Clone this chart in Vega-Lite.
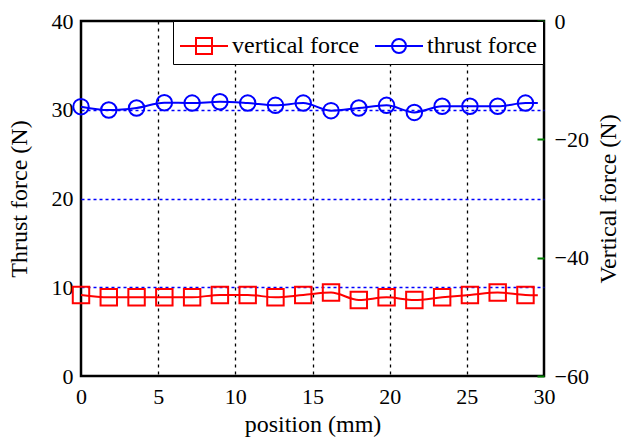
{
  "$schema": "https://vega.github.io/schema/vega-lite/v6.json",
  "width": 463,
  "height": 355,
  "autosize": {"type": "none"},
  "padding": {"left": 81, "top": 21, "right": 78, "bottom": 68},
  "background": "white",
  "config": {
    "font": "Liberation Serif",
    "view": {"stroke": "black", "strokeWidth": 2.5},
    "axis": {
      "labelFont": "Liberation Serif",
      "titleFont": "Liberation Serif",
      "labelColor": "black",
      "titleColor": "black",
      "labelFontSize": 22,
      "titleFontSize": 24,
      "titleFontWeight": "normal",
      "domain": false
    }
  },
  "datasets": {
    "curve": [
      {"position": 0, "thrust": 30.35, "vertical": -46.3},
      {"position": 1.8, "thrust": 29.97, "vertical": -46.7},
      {"position": 3.6, "thrust": 30.2, "vertical": -46.7},
      {"position": 5.4, "thrust": 30.8, "vertical": -46.7},
      {"position": 7.2, "thrust": 30.75, "vertical": -46.7},
      {"position": 9.0, "thrust": 30.9, "vertical": -46.3},
      {"position": 10.8, "thrust": 30.75, "vertical": -46.3},
      {"position": 12.6, "thrust": 30.5, "vertical": -46.7},
      {"position": 14.4, "thrust": 30.75, "vertical": -46.3},
      {"position": 16.2, "thrust": 29.9, "vertical": -45.9},
      {"position": 18.0, "thrust": 30.2, "vertical": -47.15},
      {"position": 19.8, "thrust": 30.5, "vertical": -46.7},
      {"position": 21.6, "thrust": 29.7, "vertical": -47.15},
      {"position": 23.4, "thrust": 30.4, "vertical": -46.7},
      {"position": 25.2, "thrust": 30.4, "vertical": -46.3},
      {"position": 27.0, "thrust": 30.4, "vertical": -45.9},
      {"position": 28.8, "thrust": 30.75, "vertical": -46.3},
      {"position": 29.6, "thrust": 30.75, "vertical": -46.35}
    ],
    "markers": [
      {"position": 0, "thrust": 30.35, "vertical": -46.3},
      {"position": 1.8, "thrust": 29.97, "vertical": -46.7},
      {"position": 3.6, "thrust": 30.2, "vertical": -46.7},
      {"position": 5.4, "thrust": 30.8, "vertical": -46.7},
      {"position": 7.2, "thrust": 30.75, "vertical": -46.7},
      {"position": 9.0, "thrust": 30.9, "vertical": -46.3},
      {"position": 10.8, "thrust": 30.75, "vertical": -46.3},
      {"position": 12.6, "thrust": 30.5, "vertical": -46.7},
      {"position": 14.4, "thrust": 30.75, "vertical": -46.3},
      {"position": 16.2, "thrust": 29.9, "vertical": -45.9},
      {"position": 18.0, "thrust": 30.2, "vertical": -47.15},
      {"position": 19.8, "thrust": 30.5, "vertical": -46.7},
      {"position": 21.6, "thrust": 29.7, "vertical": -47.15},
      {"position": 23.4, "thrust": 30.4, "vertical": -46.7},
      {"position": 25.2, "thrust": 30.4, "vertical": -46.3},
      {"position": 27.0, "thrust": 30.4, "vertical": -45.9},
      {"position": 28.8, "thrust": 30.75, "vertical": -46.3}
    ],
    "series": [
      {"series": "vertical force"},
      {"series": "thrust force"}
    ]
  },
  "layer": [
    {
      "layer": [
        {
          "data": {"name": "curve"},
          "mark": {"type": "line", "color": "#0000ff", "strokeWidth": 2, "interpolate": "monotone"},
          "encoding": {
            "x": {
              "field": "position", "type": "quantitative",
              "scale": {"domain": [0, 30], "nice": false, "zero": false},
              "axis": {
                "values": [0, 5, 10, 15, 20, 25, 30],
                "title": "position (mm)",
                "grid": true,
                "gridColor": {"condition": {"test": "datum.value > 0 && datum.value < 30", "value": "black"}, "value": "transparent"},
                "gridDash": [3, 4],
                "gridWidth": 1.3,
                "gridOpacity": 1,
                "ticks": false,
                "labelPadding": 10,
                "labelDx": 2,
                "labelFlush": false,
                "titlePadding": 5
              }
            },
            "y": {
              "field": "thrust", "type": "quantitative",
              "scale": {"domain": [0, 40], "nice": false, "zero": false},
              "axis": {
                "orient": "left",
                "values": [0, 10, 20, 30, 40],
                "title": "Thrust force (N)",
                "grid": true,
                "gridColor": {"condition": {"test": "datum.value > 0 && datum.value < 40", "value": "#0000ff"}, "value": "transparent"},
                "gridDash": [3, 3],
                "gridWidth": 1.3,
                "gridOpacity": 1,
                "ticks": false,
                "labelPadding": 8,
                "labelFlush": false,
                "titlePadding": 20
              }
            }
          }
        },
        {
          "data": {"name": "markers"},
          "mark": {"type": "point", "shape": "circle", "filled": false, "color": "#0000ff", "strokeWidth": 2, "size": 240, "opacity": 1},
          "encoding": {
            "x": {"field": "position", "type": "quantitative"},
            "y": {"field": "thrust", "type": "quantitative"}
          }
        },
        {
          "data": {"name": "series"},
          "mark": {"type": "point", "filled": false, "opacity": 0},
          "encoding": {
            "color": {
              "field": "series", "type": "nominal",
              "scale": {"domain": ["vertical force", "thrust force"], "range": ["#ff0000", "#0000ff"]},
              "legend": {
                "title": null,
                "orient": "none",
                "legendX": 92,
                "legendY": 0,
                "direction": "horizontal",
                "strokeColor": "black",
                "fillColor": "white",
                "padding": 6,
                "symbolSize": 1296,
                "symbolStrokeWidth": 2,
                "symbolOpacity": 1,
                "labelFont": "Liberation Serif",
                "labelFontSize": 24,
                "labelColor": "black",
                "labelOffset": 15,
                "columnPadding": 11
              }
            },
            "shape": {
              "field": "series", "type": "nominal",
              "scale": {
                "domain": ["vertical force", "thrust force"],
                "range": [
                  "M-1,0H1.667M-0.111,-0.444H0.778V0.444H-0.111Z",
                  "M-1,0H1.667M-0.056,0A0.389,0.389 0 1,0 0.722,0A0.389,0.389 0 1,0 -0.056,0"
                ]
              }
            }
          }
        }
      ]
    },
    {
      "layer": [
        {
          "data": {"name": "curve"},
          "mark": {"type": "line", "color": "#ff0000", "strokeWidth": 2, "interpolate": "monotone"},
          "encoding": {
            "x": {"field": "position", "type": "quantitative"},
            "y": {
              "field": "vertical", "type": "quantitative",
              "scale": {"domain": [-60, 0], "nice": false, "zero": false},
              "axis": {
                "orient": "right",
                "values": [-60, -40, -20, 0],
                "title": "Vertical force (N)",
                "titleAngle": 270,
                "grid": false,
                "ticks": true,
                "tickColor": "#008000",
                "tickSize": -7,
                "tickWidth": 2,
                "labelPadding": 17,
                "labelFlush": false,
                "titlePadding": 32
              }
            }
          }
        },
        {
          "data": {"name": "markers"},
          "mark": {"type": "point", "shape": "square", "filled": false, "color": "#ff0000", "strokeWidth": 2, "size": 270, "opacity": 1},
          "encoding": {
            "x": {"field": "position", "type": "quantitative"},
            "y": {"field": "vertical", "type": "quantitative"}
          }
        }
      ]
    }
  ],
  "resolve": {"scale": {"y": "independent"}}
}
